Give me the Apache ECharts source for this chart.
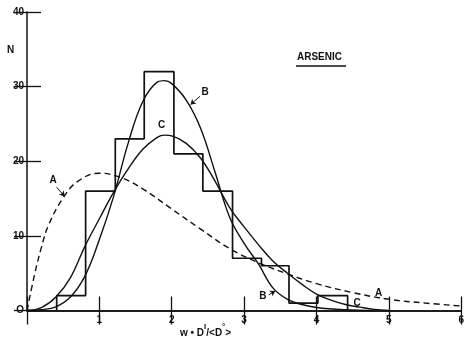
<!DOCTYPE html>
<html><head><meta charset="utf-8">
<script src="https://cdn.jsdelivr.net/npm/echarts@6/dist/echarts.min.js"></script>
<style>html,body{margin:0;padding:0;background:#fff}#c{width:467px;height:342px}</style>
</head><body><div id="c"></div>
<script>
// histogram
var binEdges = [0.41,0.81,1.22,1.62,2.03,2.43,2.84,3.24,3.62,4.02,4.43];
var binCounts = [2,16,23,32,21,16,7,6,1,2];
// curve A (dashed)
var xA = [0,0.1,0.2,0.3,0.5,0.7,1.0,1.3,1.6,2.0,2.4,2.8,3.2,3.6,4.0,4.5,5.0,5.5,6.0];
var yA = [0,4.6,8.5,11.5,15.1,17.3,18.4,17.8,16.3,13.6,10.9,8.3,6.4,4.9,3.6,2.4,1.5,1.0,0.6];
// curve B
var xB = [0,0.2,0.4,0.6,0.8,1.0,1.2,1.4,1.6,1.8,1.9,2.0,2.2,2.4,2.6,2.8,3.0,3.2,3.4,3.6,3.8,4.0,4.4,4.8];
var yB = [0,0.1,0.5,1.8,4.6,9.5,15.4,22.5,28.0,30.6,30.8,30.4,28.2,24.4,18.5,12.5,9.0,6.2,3.0,1.5,0.8,0.4,0.1,0];
// curve C
var xC = [0,0.2,0.4,0.6,0.8,1.0,1.2,1.4,1.6,1.8,1.9,2.0,2.2,2.4,2.6,2.8,3.0,3.2,3.4,3.6,3.8,4.0,4.2,4.4,4.6,4.8,5.0];
var yC = [0,0.4,1.8,4.4,8.6,12.3,15.9,19.0,21.6,23.2,23.5,23.4,22.4,20.4,17.3,13.8,11.2,8.8,6.6,5.0,3.5,2.2,1.4,0.8,0.45,0.15,0];
// curve labels
var curveLabels = ['A','A','B','B','C','C'];
var curveLabelX = [0.36,4.86,2.46,3.26,1.86,4.56];
var curveLabelY = [17.4,2.3,29.2,1.85,24.8,1.0];
var xTicks = [0,1,2,3,4,5,6];
var yTicks = [0,10,20,30,40];

function zip(xs, ys){ return xs.map(function(x,i){return [x, ys[i]];}); }
var histData = [[binEdges[0],0]];
for (var i=0;i<binCounts.length;i++){ histData.push([binEdges[i], binCounts[i]]); }
histData.push([binEdges[binEdges.length-1], 0]);
var labelData = curveLabels.map(function(n,i){ return {value:[curveLabelX[i], curveLabelY[i]], name:n}; });

var F = 'Liberation Sans';

var chart = echarts.init(document.getElementById('c'), null, {renderer:'canvas'});
chart.setOption({
  animation:false,
  backgroundColor:'#fff',
  grid:{left:27, right:2, top:12, bottom:31.5},
  xAxis:[{
    type:'value', min:0, max:6, interval:1, position:'bottom',
    axisLine:{show:true, lineStyle:{color:'#111', width:1.5}},
    axisTick:{show:true, inside:true, length:14, lineStyle:{color:'#111', width:1.3}},
    axisLabel:{fontFamily:F, fontWeight:'bold', fontSize:10, color:'#111', margin:5,
      formatter:function(v){return v===0?'':String(v);}},
    splitLine:{show:false}
  },{
    type:'value', min:0, max:6, interval:1, position:'top',
    axisLine:{show:true, lineStyle:{color:'#111', width:1.5}},
    axisTick:{show:true, inside:true, length:14, lineStyle:{color:'#111', width:1.3},
      interval:function(idx, v){ return v==1||v==4||v==5; }},
    axisLabel:{show:false}, splitLine:{show:false}
  }],
  yAxis:[{
    type:'value', min:0, max:40, interval:10, position:'left',
    axisLine:{show:true, lineStyle:{color:'#111', width:1.5}},
    axisTick:{show:true, inside:true, length:14, lineStyle:{color:'#111', width:1.3}},
    axisLabel:{fontFamily:F, fontWeight:'bold', fontSize:10, color:'#111', margin:3,
      formatter:function(v){return v===0?'O':String(v);}},
    splitLine:{show:false}
  },{
    type:'value', min:0, max:40, interval:10, position:'right',
    axisLine:{show:false},
    axisTick:{show:true, inside:true, length:13, lineStyle:{color:'#111', width:1.3},
      interval:function(idx, v){ return v==10||v==20; }},
    axisLabel:{show:false}, splitLine:{show:false}
  }],
  graphic:[
    {type:'text', left:7, top:45, style:{text:'N', font:'bold 10px "Liberation Sans"', fill:'#111'}},
    {type:'text', left:297, top:52, style:{text:'ARSENIC', font:'bold 10px "Liberation Sans"', fill:'#111'}},
    {type:'line', shape:{x1:296, y1:66, x2:346, y2:66}, style:{stroke:'#111', lineWidth:1.3}},
    {type:'text', left:180, top:323, style:{
      text:'{a|w • D}{s|I}{a|/<D}{s|°}{a|>}',
      rich:{a:{font:'bold 10px "Liberation Sans"', fill:'#111', verticalAlign:'bottom'},
            s:{font:'bold 8px "Liberation Sans"', fill:'#111', padding:[0,0,7,0]}}}}
  ],
  series:[
    {type:'line', name:'hist', data:histData, step:'end', symbol:'none',
     lineStyle:{color:'#111', width:1.7}, z:3},
    {type:'line', name:'A', data:zip(xA,yA), smooth:0.4, symbol:'none',
     lineStyle:{color:'#111', width:1.4, type:[6,4]},
     markLine:{silent:true, symbol:['none','arrow'], symbolSize:5, label:{show:false},
       lineStyle:{color:'#111', width:1, type:'solid'},
       data:[[{coord:[0.41,16.5]},{coord:[0.52,15.3]}]]}},
    {type:'line', name:'B', data:zip(xB,yB), smooth:0.4, symbol:'none',
     lineStyle:{color:'#111', width:1.4},
     markLine:{silent:true, symbol:['none','arrow'], symbolSize:5, label:{show:false},
       lineStyle:{color:'#111', width:1, type:'solid'},
       data:[[{coord:[2.39,28.7]},{coord:[2.26,27.6]}],[{coord:[3.34,2.1]},{coord:[3.43,2.6]}]]}},
    {type:'line', name:'C', data:zip(xC,yC), smooth:0.4, symbol:'none',
     lineStyle:{color:'#111', width:1.4}},
    {type:'scatter', name:'labels', data:labelData, symbol:'circle', symbolSize:0,
     itemStyle:{color:'#111', opacity:1}, z:5,
     label:{show:true, position:'inside', formatter:function(p){return p.name;},
       fontFamily:F, fontWeight:'bold', fontSize:10, color:'#111', textBorderWidth:0}}
  ]
});
</script></body></html>
